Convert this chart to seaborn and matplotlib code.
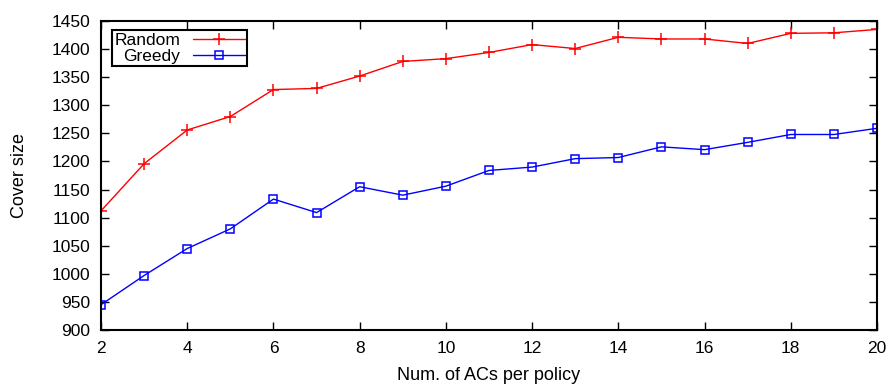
import pandas as pd
import matplotlib
matplotlib.use("Agg")
import matplotlib.pyplot as plt
from matplotlib.lines import Line2D
import seaborn as sns

acs_per_policy = list(range(2, 21))
random_cover = [1112, 1196, 1256, 1280, 1328, 1330, 1352, 1378, 1383, 1394,
                1408, 1401, 1421, 1418, 1418, 1410, 1428, 1429, 1435]
greedy_cover = [945, 997, 1045, 1080, 1133, 1109, 1155, 1140, 1156, 1184,
                1190, 1205, 1207, 1226, 1221, 1234, 1248, 1248, 1259]
series_names = ["Random", "Greedy"]
x_ticks = list(range(2, 21, 2))
y_ticks = list(range(900, 1451, 50))

random_df = pd.DataFrame({"acs": acs_per_policy, "cover": random_cover})
greedy_df = pd.DataFrame({"acs": acs_per_policy, "cover": greedy_cover})

sns.set_style("ticks")
plt.rcParams["font.family"] = ["Liberation Sans", "DejaVu Sans"]
plt.rcParams["text.color"] = "black"
plt.rcParams["axes.labelcolor"] = "black"

fig = plt.figure(figsize=(8.9, 3.86), dpi=100)
ax = fig.add_axes([101 / 890, 1 - 330 / 386, 776 / 890, 309 / 386])

red_style = dict(color="#ff0000", marker="+", markersize=8, markeredgecolor="#ff0000",
                 markeredgewidth=1.1, linewidth=1.0)
blue_style = dict(color="#0000ff", marker="s", markersize=6.2, markerfacecolor="none",
                  markeredgecolor="#0000ff", markeredgewidth=1.1, linewidth=1.0)

sns.lineplot(data=random_df, x="acs", y="cover", ax=ax, legend=False, **red_style)
sns.lineplot(data=greedy_df, x="acs", y="cover", ax=ax, legend=False, **blue_style)

ax.set_xlim(2, 20)
ax.set_ylim(900, 1450)
ax.set_xticks(x_ticks)
ax.set_yticks(y_ticks)
ax.tick_params(direction="in", top=True, right=True, length=6, width=1,
               labelsize=12.5, colors="black")
ax.tick_params(axis="x", pad=8)
ax.tick_params(axis="y", pad=8)
for s in ax.spines.values():
    s.set_visible(True)
    s.set_linewidth(1.5)
    s.set_color("black")

ax.set_xlabel("Num. of ACs per policy", fontsize=13, labelpad=8, color="black")
ax.set_ylabel("Cover size", fontsize=13, labelpad=17, color="black")

handles = [Line2D([], [], **red_style), Line2D([], [], **blue_style)]
leg = ax.legend(
    handles, series_names, loc="upper left",
    bbox_to_anchor=((112 - 101) / 776, 1 - (30 - 21) / 309),
    borderaxespad=0, markerfirst=False, fontsize=12.5, handlelength=3.0,
    frameon=True, fancybox=False, edgecolor="black", framealpha=1,
    borderpad=0.15, labelspacing=0.05, handletextpad=0.7,
)
leg.get_frame().set_linewidth(1.5)
for t in leg.get_texts():
    t.set_color("black")

fig.savefig("out.png", dpi=100)
